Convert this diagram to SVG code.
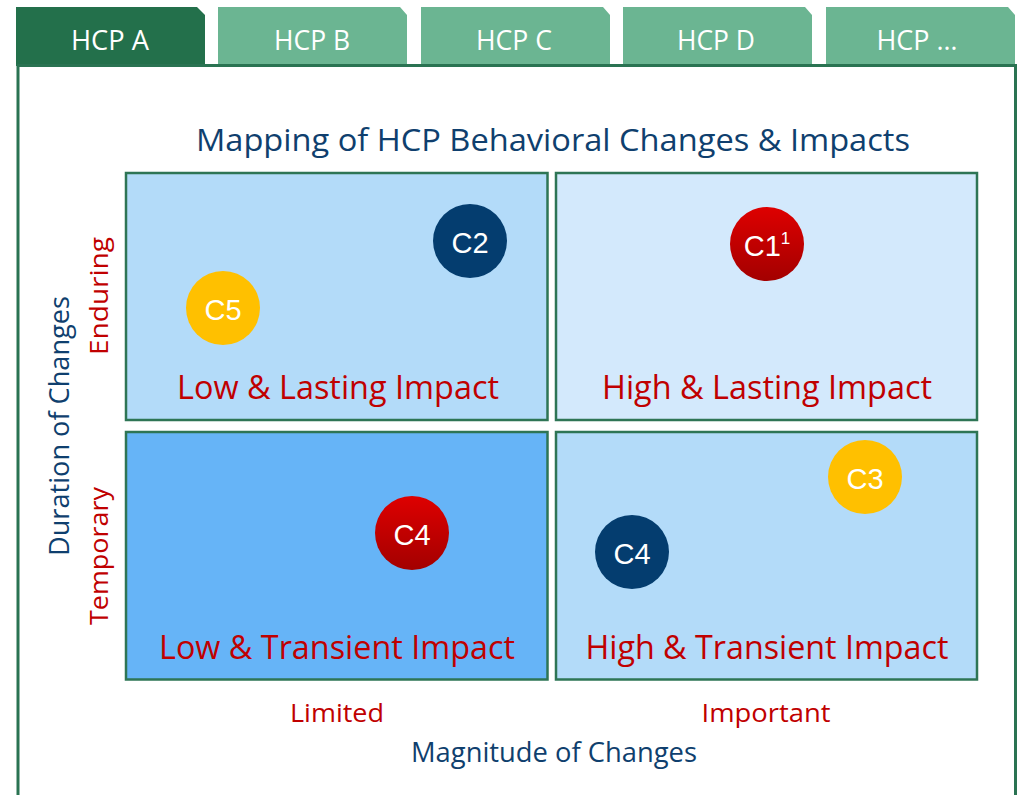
<svg xmlns="http://www.w3.org/2000/svg" width="1018" height="795" viewBox="0 0 1018 795">
<style>
.tab{fill:#6BB592}
.tabA{fill:#23704B}
.tabt{font-family:"Open Sans","Noto Sans",sans-serif;font-size:27px;fill:#FFFFFF;text-anchor:middle}
.frame{stroke:#2A7352;stroke-width:3;fill:none}
.quad{stroke:#2E7555;stroke-width:2.5}
.ql{font-family:"Open Sans","Noto Sans",sans-serif;font-size:32px;fill:#C00000;text-anchor:middle}
.ax{font-family:"Open Sans","Noto Sans",sans-serif;font-size:26px;fill:#C00000;text-anchor:middle}
.axn{font-family:"Open Sans","Noto Sans",sans-serif;font-size:27px;fill:#0F3F6E;text-anchor:middle}
.cl{font-family:"Liberation Sans",Arial,sans-serif;font-size:29px;fill:#FFFFFF;text-anchor:middle}
.navy{fill:#043D6F}
.gold{fill:#FFC000}
.red{fill:url(#redg)}
</style>
<defs>
<linearGradient id="redg" x1="0" y1="0" x2="0" y2="1">
<stop offset="0" stop-color="#DE0000"/>
<stop offset="1" stop-color="#A30000"/>
</linearGradient>
</defs>
<rect width="1018" height="795" fill="#FFFFFF"/>
<g id="tabs">
<g id="tab-a"><polygon class="tabA" points="16,66 16,7 197,7 205,15 205,66"/><text class="tabt" x="110" y="50" textLength="78" lengthAdjust="spacingAndGlyphs">HCP A</text></g>
<g id="tab-b"><polygon class="tab" points="218,64 218,7 400,7 407,15 407,64"/><text class="tabt" x="312" y="50" textLength="76" lengthAdjust="spacingAndGlyphs">HCP B</text></g>
<g id="tab-c"><polygon class="tab" points="421,64 421,7 603,7 610,15 610,64"/><text class="tabt" x="514" y="50" textLength="76" lengthAdjust="spacingAndGlyphs">HCP C</text></g>
<g id="tab-d"><polygon class="tab" points="623,64 623,7 805,7 812,15 812,64"/><text class="tabt" x="716" y="50" textLength="78" lengthAdjust="spacingAndGlyphs">HCP D</text></g>
<g id="tab-e"><polygon class="tab" points="826,64 826,7 1008,7 1015,15 1015,64"/><text class="tabt" x="917" y="50" textLength="81" lengthAdjust="spacingAndGlyphs">HCP …</text></g>
</g>
<g id="frame">
<path class="frame" d="M18,795 V65.5 H1015.5 V795"/>
</g>
<text id="title" x="553" y="151" font-family="Open Sans, Noto Sans, sans-serif" font-size="31" fill="#0F3F6E" text-anchor="middle" textLength="714" lengthAdjust="spacingAndGlyphs">Mapping of HCP Behavioral Changes &amp; Impacts</text>
<g id="q-low-lasting"><rect class="quad" x="126" y="173" width="421.5" height="247" fill="#B3DBF9"/><text class="ql" x="338" y="399" textLength="322" lengthAdjust="spacingAndGlyphs">Low &amp; Lasting Impact</text></g>
<g id="q-high-lasting"><rect class="quad" x="556" y="173" width="421" height="247" fill="#D3E9FC"/><text class="ql" x="767" y="399" textLength="330" lengthAdjust="spacingAndGlyphs">High &amp; Lasting Impact</text></g>
<g id="q-low-transient"><rect class="quad" x="126" y="432" width="421.5" height="247.5" fill="#66B4F7"/><text class="ql" x="337" y="659" textLength="356" lengthAdjust="spacingAndGlyphs">Low &amp; Transient Impact</text></g>
<g id="q-high-transient"><rect class="quad" x="556" y="432" width="421" height="247.5" fill="#B3DBF9"/><text class="ql" x="767" y="659" textLength="363" lengthAdjust="spacingAndGlyphs">High &amp; Transient Impact</text></g>
<g id="c2"><circle class="navy" cx="470" cy="241" r="37"/><text class="cl" x="470" y="253">C2</text></g>
<g id="c5"><circle class="gold" cx="223" cy="308" r="37"/><text class="cl" x="223" y="320">C5</text></g>
<g id="c1"><circle class="red" cx="767" cy="244" r="37"/><text class="cl" x="767" y="256">C1<tspan font-size="17" dy="-12">1</tspan></text></g>
<g id="c4-red"><circle class="red" cx="412" cy="533" r="37"/><text class="cl" x="412" y="545">C4</text></g>
<g id="c3"><circle class="gold" cx="865" cy="477" r="37"/><text class="cl" x="865" y="489">C3</text></g>
<g id="c4-navy"><circle class="navy" cx="632" cy="552" r="37"/><text class="cl" x="632" y="564">C4</text></g>
<g id="axis-y">
<text class="ax" transform="translate(108,296) rotate(-90)" textLength="118" lengthAdjust="spacingAndGlyphs">Enduring</text>
<text class="ax" transform="translate(108,556) rotate(-90)" textLength="138" lengthAdjust="spacingAndGlyphs">Temporary</text>
<text class="axn" transform="translate(69,426) rotate(-90)" textLength="260" lengthAdjust="spacingAndGlyphs">Duration of Changes</text>
</g>
<g id="axis-x">
<text class="ax" x="337" y="722" textLength="94" lengthAdjust="spacingAndGlyphs">Limited</text>
<text class="ax" x="766" y="722" textLength="129" lengthAdjust="spacingAndGlyphs">Important</text>
<text class="axn" x="554" y="762" textLength="286" lengthAdjust="spacingAndGlyphs">Magnitude of Changes</text>
</g>
</svg>
